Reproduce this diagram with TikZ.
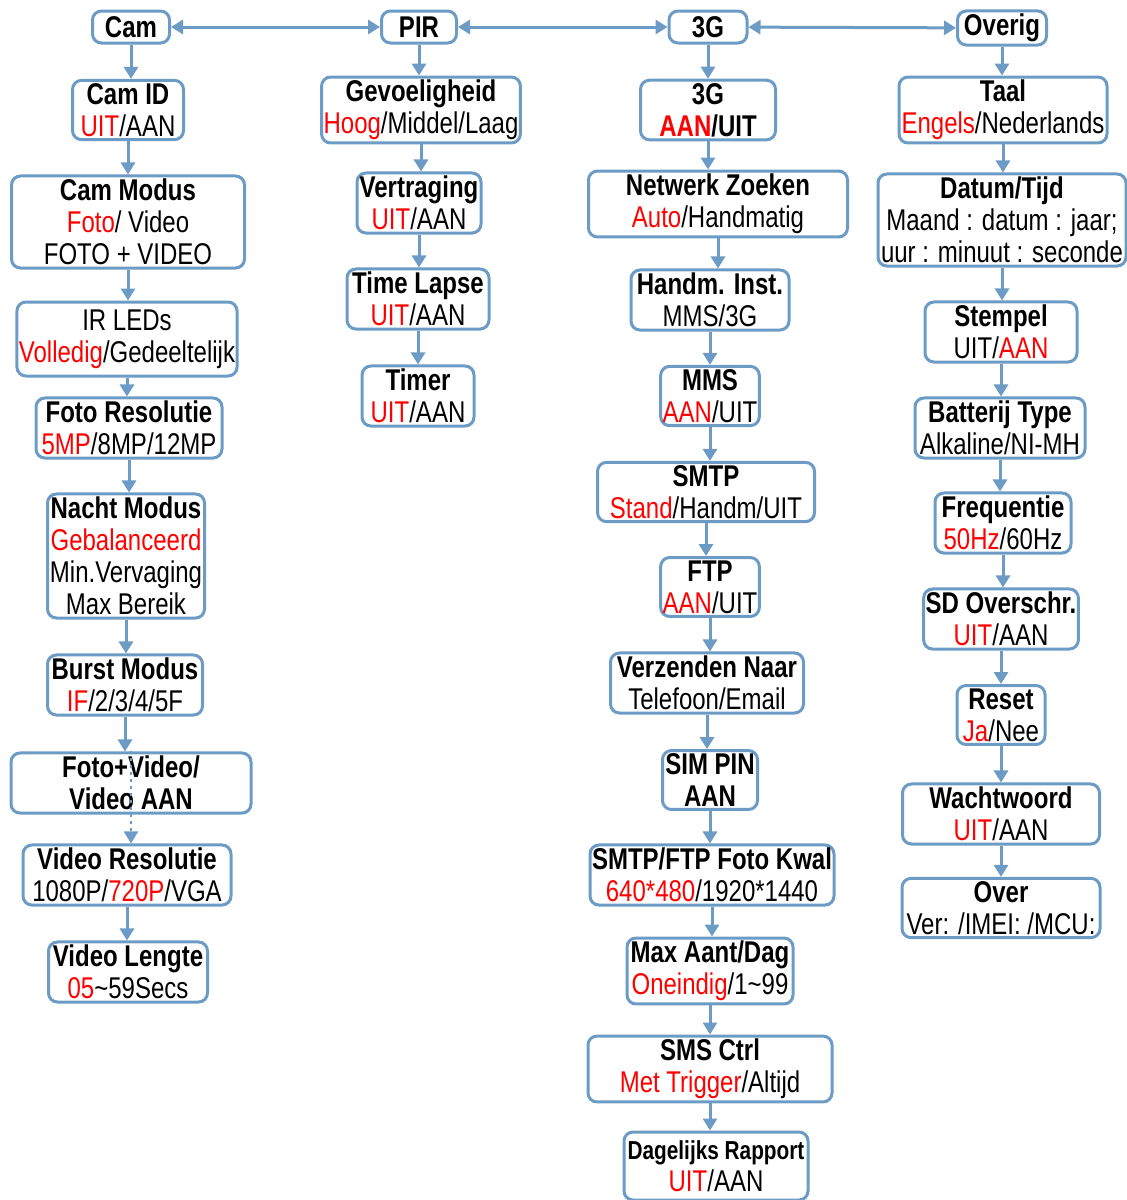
\documentclass[tikz,border=0pt]{standalone}
\usepackage{fontspec}
\setmainfont[FakeStretch=0.80]{Liberation Sans}
\usetikzlibrary{arrows.meta}
\definecolor{boxblue}{RGB}{108,155,198}
\newcommand{\rd}[1]{\textcolor{red}{#1}}

\begin{document}
\begin{tikzpicture}[x=0.5pt,y=-0.5pt,
    box/.style={draw=boxblue,line width=1.5pt,rounded corners=4.5pt,align=center,
      inner xsep=1pt,inner ysep=1.5pt,font=\fontsize{15}{16}\selectfont},
    topbox/.style={box,minimum height=16pt},
    pijl/.style={draw=boxblue,line width=1.5pt,-{Triangle[width=7pt,length=6pt]}},
    dubbel/.style={draw=boxblue,line width=1.5pt,{Triangle[width=7pt,length=6pt]}-{Triangle[width=7pt,length=6pt]}}]

  \useasboundingbox (0,0) rectangle (1126,1200);

  % top row
  \node[topbox,minimum width=38.5pt] (cam) at (131,27) {\textbf{Cam}};
  \node[topbox,minimum width=37.5pt] (pir) at (419,27) {\textbf{PIR}};
  \node[topbox,minimum width=39pt] (drieg) at (708,27) {\textbf{3G}};
  \node[topbox,minimum width=44.5pt] (overig) at (1002,28) {\textbf{Overig}};

  \draw[dubbel] (cam) -- (pir);
  \draw[dubbel] (pir) -- (drieg);
  \draw[dubbel] (drieg) -- (overig);

  % column Cam
  \node[box,minimum width=55.5pt] (camid) at (128,110) {\textbf{Cam ID}\\\rd{UIT}/AAN};
  \node[box,minimum width=116.5pt] (cammodus) at (128,222) {\textbf{Cam Modus}\\\rd{Foto}/ Video\\FOTO + VIDEO};
  \node[box,minimum width=108pt,minimum height=37pt] (irleds) at (127,339) {IR LEDs\\\rd{Volledig}/Gedeeltelijk};
  \node[box,minimum width=93pt] (fotores) at (129,428) {\textbf{Foto Resolutie}\\\rd{5MP}/8MP/12MP};
  \node[box,minimum width=78.5pt] (nacht) at (126,556) {\textbf{Nacht Modus}\\\rd{Gebalanceerd}\\Min.Vervaging\\Max Bereik};
  \node[box,minimum width=77.5pt] (burst) at (125,685) {\textbf{Burst Modus}\\\rd{IF}/2/3/4/5F};
  \node[box,minimum width=120pt] (fotovideo) at (131,783) {\textbf{Foto+Video/}\\\textbf{Video AAN}};
  \node[box,minimum width=104pt] (videores) at (127,875) {\textbf{Video Resolutie}\\1080P/\rd{720P}/VGA};
  \node[box,minimum width=79.5pt] (videolengte) at (128,972) {\textbf{Video Lengte}\\\rd{05}\textasciitilde59Secs};

  % column PIR
  \node[box,minimum width=95pt] (gevoel) at (421,110) {\textbf{Gevoeligheid}\\\rd{Hoog}/Middel/Laag};
  \node[box,minimum width=62pt] (vertraging) at (419,203) {\textbf{Vertraging}\\\rd{UIT}/AAN};
  \node[box,minimum width=71pt] (timelapse) at (418,299) {\textbf{Time Lapse}\\\rd{UIT}/AAN};
  \node[box,minimum width=56pt] (timer) at (418,396) {\textbf{Timer}\\\rd{UIT}/AAN};

  % column 3G
  \node[box,minimum width=67.5pt] (drieguit) at (708,110) {\textbf{3G}\\\textbf{\rd{AAN}/UIT}};
  \node[box,minimum width=129.5pt] (netwerk) at (718,204) {\textbf{Netwerk Zoeken}\\\rd{Auto}/Handmatig};
  \node[box,minimum width=79pt] (handm) at (710,300) {\textbf{Handm. Inst.}\\MMS/3G};
  \node[box,minimum width=47.5pt] (mms) at (710,396) {\textbf{MMS}\\\rd{AAN}/UIT};
  \node[box,minimum width=108.5pt] (smtp) at (706,492) {\textbf{SMTP}\\\rd{Stand}/Handm/UIT};
  \node[box,minimum width=47.5pt] (ftp) at (710,587) {\textbf{FTP}\\\rd{AAN}/UIT};
  \node[box,minimum width=96.5pt] (verzenden) at (707,683) {\textbf{Verzenden Naar}\\Telefoon/Email};
  \node[box,minimum width=47.5pt] (simpin) at (710,780) {\textbf{SIM PIN}\\\textbf{AAN}};
  \node[box,minimum width=119.5pt] (kwal) at (712,875) {\textbf{SMTP/FTP Foto Kwal}\\\rd{640*480}/1920*1440};
  \node[box,minimum width=83pt] (maxdag) at (710,971) {\textbf{Max Aant/Dag}\\\rd{Oneindig}/1\textasciitilde99};
  \node[box,minimum width=122pt] (smsctrl) at (710,1069) {\textbf{SMS Ctrl}\\\rd{Met Trigger}/Altijd};
  \node[box,minimum width=92pt,minimum height=34pt] (rapport) at (716,1166) {{\fontsize{13}{16}\selectfont\textbf{Dagelijks Rapport}}\\\rd{UIT}/AAN};

  % column Overig
  \node[box,minimum width=104pt] (taal) at (1003,110) {\textbf{Taal}\\\rd{Engels}/Nederlands};
  \node[box,minimum width=124pt] (datum) at (1002,220) {\textbf{Datum/Tijd}\\Maand : datum : jaar;\\uur : minuut : seconde};
  \node[box,minimum width=76pt] (stempel) at (1001,332) {\textbf{Stempel}\\UIT/\rd{AAN}};
  \node[box,minimum width=85pt] (batterij) at (1000,428) {\textbf{Batterij Type}\\Alkaline/NI-MH};
  \node[box,minimum width=68pt] (freq) at (1003,523) {\textbf{Frequentie}\\\rd{50Hz}/60Hz};
  \node[box,minimum width=76pt] (sdover) at (1001,619) {\textbf{SD Overschr.}\\\rd{UIT}/AAN};
  \node[box,minimum width=44pt] (reset) at (1001,715) {\textbf{Reset}\\\rd{Ja}/Nee};
  \node[box,minimum width=98.5pt] (wachtwoord) at (1001,814) {\textbf{Wachtwoord}\\\rd{UIT}/AAN};
  \node[box,minimum width=99pt] (over) at (1001,908) {\textbf{Over}\\Ver: /IMEI: /MCU:};

  % connectors
  \foreach \a/\b in {cam/camid, camid/cammodus, cammodus/irleds, irleds/fotores,
      fotores/nacht, nacht/burst, burst/fotovideo, videores/videolengte,
      pir/gevoel, gevoel/vertraging, vertraging/timelapse, timelapse/timer,
      drieg/drieguit, drieguit/netwerk, netwerk/handm, handm/mms, mms/smtp,
      smtp/ftp, ftp/verzenden, verzenden/simpin, simpin/kwal, kwal/maxdag,
      maxdag/smsctrl, smsctrl/rapport,
      overig/taal, taal/datum, datum/stempel, stempel/batterij, batterij/freq,
      freq/sdover, sdover/reset, reset/wachtwoord, wachtwoord/over}
    \draw[pijl] (\a.south) -- (\a.south |- \b.north);

  % dotted line through Foto+Video
  \draw[pijl,dotted,line width=1.2pt] (fotovideo.north) -- (fotovideo.north |- videores.north);

\end{tikzpicture}
\end{document}
